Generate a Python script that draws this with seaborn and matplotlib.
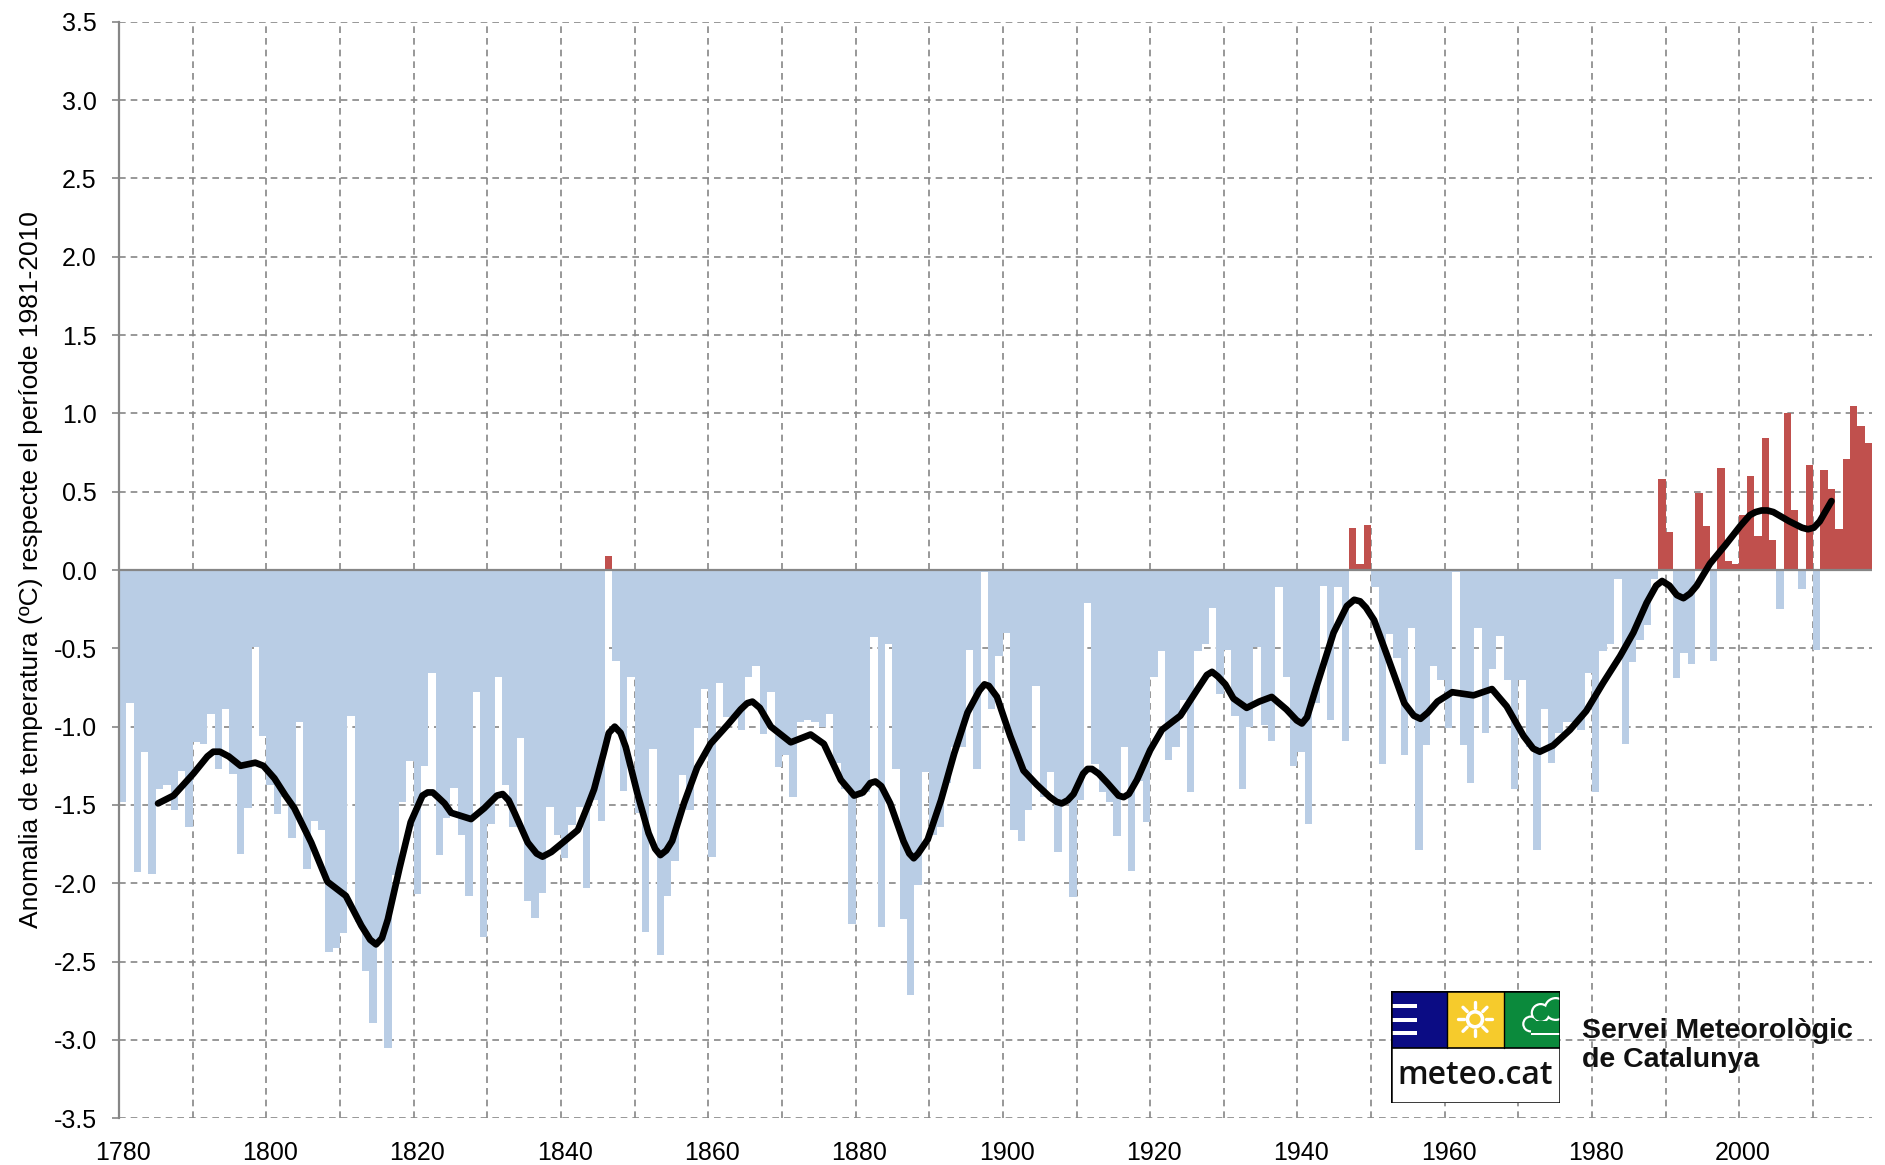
import matplotlib
matplotlib.use('Agg')
import matplotlib.pyplot as plt
from matplotlib.patches import Rectangle, Circle
from matplotlib.ticker import FixedLocator
import numpy as np
import pandas as pd
import seaborn as sns

# annual temperature anomaly vs 1981-2010 (one value per year, 1780-2017)
years = list(range(1780, 2018))
anomaly = [
    -1.48, -0.85, -1.93, -1.16, -1.94, -1.40, -1.37, -1.53, -1.28, -1.64,  # 1780s
    -1.10, -1.11, -0.92, -1.27, -0.89, -1.30, -1.81, -1.52, -0.49, -1.06,  # 1790s
    -1.37, -1.56, -1.45, -1.71, -0.97, -1.91, -1.60, -1.66, -2.44, -2.41,  # 1800s
    -2.32, -0.93, -2.25, -2.56, -2.89, -2.35, -3.05, -1.95, -1.48, -1.22,  # 1810s
    -2.07, -1.25, -0.66, -1.82, -1.58, -1.39, -1.69, -2.08, -0.78, -2.34,  # 1820s
    -1.62, -0.68, -1.37, -1.64, -1.07, -2.11, -2.22, -2.06, -1.51, -1.69,  # 1830s
    -1.84, -1.63, -1.51, -2.03, -1.47, -1.60, 0.09, -0.58, -1.41, -0.68,   # 1840s
    -1.55, -2.31, -1.14, -2.46, -2.08, -1.86, -1.31, -1.53, -1.01, -0.76,  # 1850s
    -1.83, -0.72, -0.94, -0.93, -1.02, -0.68, -0.61, -1.05, -0.78, -1.26,  # 1860s
    -1.18, -1.45, -0.97, -0.96, -0.97, -1.00, -0.92, -1.23, -1.40, -2.26,  # 1870s
    -1.45, -1.42, -0.43, -2.28, -0.47, -1.27, -2.23, -2.71, -2.01, -1.29,  # 1880s
    -1.69, -1.64, -1.36, -1.13, -1.13, -0.51, -1.27, -0.01, -0.89, -0.55,  # 1890s
    -0.40, -1.66, -1.73, -1.53, -0.74, -1.45, -1.29, -1.80, -1.49, -2.09,  # 1900s
    -1.47, -0.21, -1.24, -1.42, -1.48, -1.70, -1.13, -1.92, -1.35, -1.61,  # 1910s
    -0.68, -0.52, -1.21, -1.13, -0.83, -1.42, -0.52, -0.47, -0.24, -0.79,  # 1920s
    -0.51, -0.93, -1.40, -1.00, -0.49, -0.99, -1.09, -0.11, -0.68, -1.25,  # 1930s
    -1.16, -1.62, -0.85, -0.10, -0.96, -0.11, -1.09, 0.27, 0.04, 0.29,     # 1940s
    -0.11, -1.24, -0.41, -0.56, -1.18, -0.37, -1.79, -1.12, -0.61, -0.70,  # 1950s
    -1.01, -0.01, -1.12, -1.36, -0.37, -1.04, -0.63, -0.42, -0.70, -1.40,  # 1960s
    -0.70, -1.13, -1.79, -0.89, -1.23, -1.04, -0.97, -0.97, -1.02, -0.66,  # 1970s
    -1.42, -0.52, -0.47, -0.06, -1.11, -0.59, -0.45, -0.35, -0.06, 0.58,   # 1980s
    0.24, -0.69, -0.53, -0.60, 0.49, 0.28, -0.58, 0.65, 0.06, 0.04,        # 1990s
    0.35, 0.60, 0.22, 0.84, 0.19, -0.25, 1.00, 0.38, -0.12, 0.67,          # 2000s
    -0.51, 0.64, 0.52, 0.26, 0.71, 1.05, 0.92, 0.81,                       # 2010s
]

# smoothed curve
trend_years = [
    1784.8, 1786.9, 1789.6, 1791.5, 1792.3, 1793.2, 1794.4, 1796.0, 1798.0, 1799.1,
    1800.6, 1802.1, 1803.3, 1805.6, 1807.8, 1810.3, 1812.4, 1813.6, 1814.4, 1815.2,
    1816.0, 1817.6, 1819.1, 1820.7, 1821.4, 1822.1, 1822.8, 1823.7, 1824.6, 1827.3,
    1829.1, 1830.8, 1831.6, 1832.4, 1833.2, 1835.0, 1836.2, 1837.0, 1838.2, 1839.5,
    1841.8, 1843.1, 1844.0, 1845.3, 1846.0, 1846.8, 1847.6, 1848.3, 1849.9, 1851.4,
    1852.3, 1853.0, 1853.8, 1854.6, 1856.2, 1858.0, 1859.8, 1862.1, 1863.9, 1864.8,
    1865.5, 1866.5, 1868.0, 1870.7, 1873.4, 1875.2, 1877.5, 1879.3, 1880.5, 1881.5,
    1882.2, 1883.0, 1884.2, 1886.0, 1886.8, 1887.4, 1888.0, 1889.3, 1891.1, 1892.9,
    1894.7, 1896.3, 1897.0, 1897.6, 1898.7, 1900.5, 1902.3, 1904.1, 1905.9, 1906.8,
    1907.5, 1908.3, 1909.1, 1910.4, 1911.0, 1911.6, 1912.5, 1913.7, 1915.2, 1915.9,
    1916.6, 1917.7, 1919.5, 1921.1, 1923.6, 1925.8, 1927.2, 1927.9, 1928.7, 1929.7,
    1930.8, 1932.6, 1934.3, 1936.0, 1938.0, 1939.4, 1940.1, 1940.8, 1942.1, 1944.4,
    1946.2, 1947.2, 1948.0, 1948.8, 1949.9, 1951.7, 1954.0, 1955.3, 1956.2, 1957.2,
    1958.5, 1960.5, 1963.4, 1965.9, 1967.9, 1970.2, 1971.5, 1972.4, 1973.3, 1974.2,
    1976.5, 1978.7, 1981.0, 1983.3, 1985.1, 1986.9, 1988.2, 1989.0, 1990.0, 1991.0,
    1991.9, 1992.8, 1993.7, 1995.5, 1997.6, 1999.6, 2000.9, 2001.7, 2002.5, 2003.3,
    2004.1, 2006.3, 2008.0, 2008.8, 2009.6, 2010.4, 2012.0,
]
trend_values = [
    -1.49, -1.44, -1.30, -1.19, -1.16, -1.16, -1.19, -1.25, -1.23, -1.25,
    -1.33, -1.44, -1.52, -1.74, -1.99, -2.08, -2.27, -2.36, -2.39, -2.35,
    -2.23, -1.90, -1.61, -1.44, -1.42, -1.42, -1.45, -1.49, -1.55, -1.59,
    -1.52, -1.44, -1.43, -1.47, -1.55, -1.74, -1.81, -1.83, -1.80, -1.75,
    -1.66, -1.51, -1.40, -1.17, -1.04, -1.00, -1.04, -1.13, -1.43, -1.68,
    -1.78, -1.82, -1.79, -1.73, -1.49, -1.26, -1.11, -0.99, -0.89, -0.85,
    -0.84, -0.88, -1.00, -1.10, -1.05, -1.11, -1.34, -1.44, -1.42, -1.36,
    -1.35, -1.38, -1.49, -1.73, -1.81, -1.84, -1.81, -1.72, -1.47, -1.17,
    -0.91, -0.77, -0.73, -0.74, -0.81, -1.06, -1.28, -1.37, -1.45, -1.48,
    -1.49, -1.47, -1.43, -1.30, -1.27, -1.27, -1.30, -1.36, -1.44, -1.45,
    -1.43, -1.34, -1.15, -1.02, -0.93, -0.77, -0.67, -0.65, -0.68, -0.73,
    -0.82, -0.88, -0.84, -0.81, -0.89, -0.96, -0.98, -0.94, -0.74, -0.40,
    -0.23, -0.19, -0.20, -0.24, -0.32, -0.55, -0.85, -0.93, -0.95, -0.91,
    -0.84, -0.78, -0.80, -0.76, -0.87, -1.06, -1.14, -1.16, -1.14, -1.12,
    -1.02, -0.90, -0.72, -0.55, -0.40, -0.21, -0.10, -0.07, -0.10, -0.16,
    -0.18, -0.15, -0.10, 0.04, 0.16, 0.28, 0.35, 0.37, 0.38, 0.38,
    0.37, 0.31, 0.27, 0.26, 0.27, 0.31, 0.44,
]

ylabel = 'Anomalia de temperatura (ºC) respecte el període 1981-2010'
y_ticks = [-3.5, -3.0, -2.5, -2.0, -1.5, -1.0, -0.5, 0.0, 0.5, 1.0, 1.5, 2.0, 2.5, 3.0, 3.5]
x_label_years = [1780, 1800, 1820, 1840, 1860, 1880, 1900, 1920, 1940, 1960, 1980, 2000]

sns.set_theme(style='white')
plt.rcParams['font.family'] = ['Liberation Sans', 'DejaVu Sans']
plt.rcParams['axes.unicode_minus'] = False

W, H = 1885, 1165
fig = plt.figure(figsize=(W / 100, H / 100), dpi=100)
ax = fig.add_axes([119 / W, 1 - 1118.3 / H, (1872 - 119) / W, (1118.3 - 21.7) / H])

df = pd.DataFrame({'year': years, 'anomaly': anomaly})
df['sign'] = np.where(df['anomaly'] >= 0, 'pos', 'neg')

grid_col = '#868686'
ax.set_axisbelow(True)
sns.barplot(data=df, x='year', y='anomaly', hue='sign', native_scale=True,
            palette={'neg': '#B9CDE5', 'pos': '#C0504D'}, width=1, dodge=False,
            saturation=1, errorbar=None, linewidth=0, legend=False, ax=ax)
ax.axhline(0, color=grid_col, lw=1.6, zorder=3)
sns.lineplot(x=trend_years, y=trend_values, sort=False, color='black', lw=4.8,
             solid_capstyle='round', solid_joinstyle='round', ax=ax, zorder=4)

ax.set_xlim(1779.5, 2017.5)
ax.set_ylim(-3.5, 3.5)
ax.set_xticks(x_label_years)
ax.set_xticklabels([str(y) for y in x_label_years])
ax.xaxis.set_minor_locator(FixedLocator([y - 0.5 for y in range(1790, 2011, 10)]))
ax.set_yticks(y_ticks)
ax.set_yticklabels([f'{v:.1f}' for v in y_ticks])
ax.tick_params(axis='x', which='both', length=0, labelsize=18, pad=16, colors='black')
ax.tick_params(axis='y', length=5, width=1.2, color=grid_col, labelsize=18, pad=11,
               labelcolor='black', left=True)

ax.grid(axis='y', which='major', color=grid_col, lw=1.2, ls=(0, (4, 3)))
ax.grid(axis='x', which='minor', color=grid_col, lw=1.2, ls=(0, (4, 3)))
ax.grid(axis='x', which='major', visible=False)

for side in ['top', 'right', 'bottom']:
    ax.spines[side].set_visible(False)
ax.spines['left'].set_color(grid_col)
ax.spines['left'].set_linewidth(1.6)

ax.set_xlabel('')
ax.set_ylabel(ylabel, fontsize=19, color='black')
ax.yaxis.set_label_coords(-0.0435, 0.5)

# meteo.cat logo
lx, ly, lw_, lh = 1390.7, 991, 169.3, 112.3
lax = fig.add_axes([lx / W, 1 - (ly + lh) / H, lw_ / W, lh / H])
lax.set_xlim(0, lw_)
lax.set_ylim(lh, 0)
lax.axis('off')
band = 56.7
lax.add_patch(Rectangle((0, 0), 56.4, band, fc='#0B0C84', ec='none'))
lax.add_patch(Rectangle((56.4, 0), 56.7, band, fc='#F6CB2C', ec='none'))
green = Rectangle((113.1, 0), 56.2, band, fc='#0B8A3C', ec='none')
lax.add_patch(green)
lax.add_patch(Rectangle((0, band), lw_, lh - band, fc='white', ec='none'))
for yy in [12.5, 26.5, 40.2]:
    lax.add_patch(Rectangle((0, yy), 26.5, 4, fc='white', ec='none'))
lax.add_patch(Circle((84.3, 28.3), 7.5, fc='none', ec='white', lw=2.6))
for a in np.deg2rad(np.arange(0, 360, 45)):
    lax.plot([84.3 + 11 * np.cos(a), 84.3 + 17 * np.cos(a)],
             [28.3 + 11 * np.sin(a), 28.3 + 17 * np.sin(a)], color='white', lw=2.4)
for (cx, cy, r) in [(140, 33, 8.5), (150, 22, 10), (165, 18, 12)]:
    c = Circle((cx, cy), r, fc='white', ec='none')
    lax.add_patch(c)
    c.set_clip_path(green)
base = Rectangle((140, 30), 40, 14, fc='white', ec='none')
lax.add_patch(base)
base.set_clip_path(green)
for (cx, cy, r) in [(140, 33, 6.3), (150, 22, 7.8), (165, 18, 9.8)]:
    c = Circle((cx, cy), r, fc='#0B8A3C', ec='none')
    lax.add_patch(c)
    c.set_clip_path(green)
inner = Rectangle((140, 30), 40, 11.8, fc='#0B8A3C', ec='none')
lax.add_patch(inner)
inner.set_clip_path(green)
lax.plot([0, lw_], [band, band], color='black', lw=1.2)
for xx in [56.4, 113.1]:
    lax.plot([xx, xx], [0, band], color='black', lw=1.0)
lax.add_patch(Rectangle((0, 0), lw_, lh, fill=False, ec='black', lw=1.8))
lax.text(lw_ / 2, 85, 'meteo.cat', ha='center', va='center', fontsize=23,
         family=['Open Sans', 'DejaVu Sans'], fontweight='semibold', color='#111111')

fig.text(1582 / W, 1 - 1031 / H, 'Servei Meteorològic', fontsize=20.5, fontweight='bold',
         va='center', ha='left', color='#111111')
fig.text(1582 / W, 1 - 1060 / H, 'de Catalunya', fontsize=20.5, fontweight='bold',
         va='center', ha='left', color='#111111')

fig.savefig('out.png', dpi=100)
